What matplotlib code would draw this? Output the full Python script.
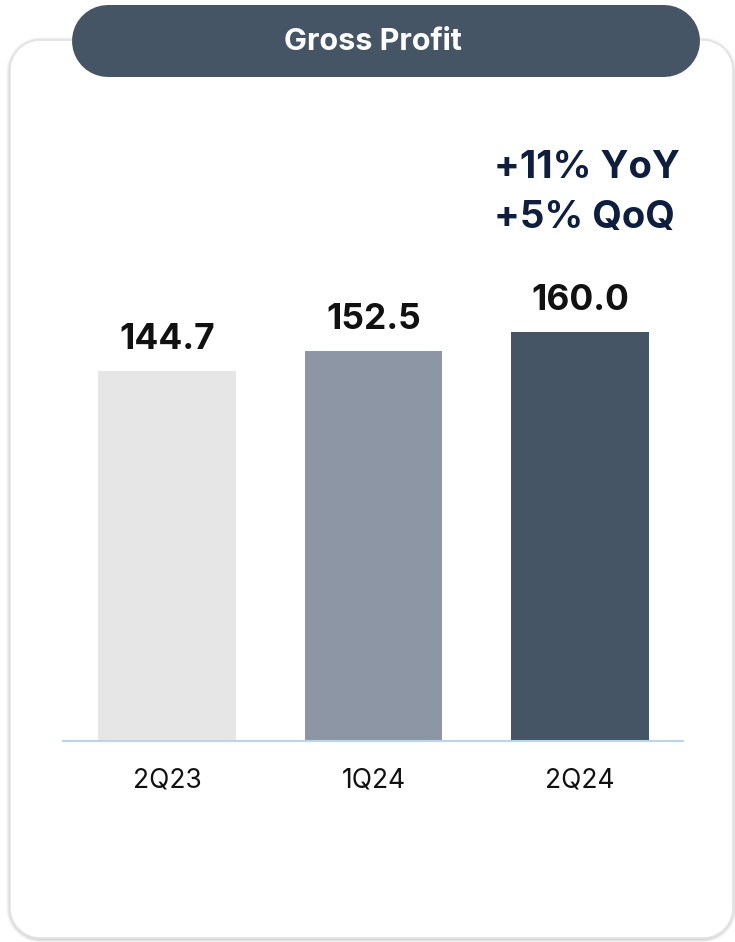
import numpy as np
import matplotlib
matplotlib.use("Agg")
import matplotlib.pyplot as plt
from matplotlib.patches import Polygon

plt.rcParams['font.family'] = ['Inter', 'DejaVu Sans']

categories = ["2Q23", "1Q24", "2Q24"]
values = [144.7, 152.5, 160.0]
value_labels = ["144.7", "152.5", "160.0"]
bar_colors = ["#e6e6e6", "#8c96a5", "#465566"]
title = "Gross Profit"
growth_lines = ["+11% YoY", "+5% QoQ"]

W, H = 735, 942
fig = plt.figure(figsize=(W / 100, H / 100), dpi=100)
fig.patch.set_facecolor("white")


def rounded_rect(x0, y0, x1, y1, r, n=24):
    """Outline of a rectangle with circular corners (y grows downwards)."""
    pts = []
    corners = [(x1 - r, y0 + r, -90, 0), (x1 - r, y1 - r, 0, 90),
               (x0 + r, y1 - r, 90, 180), (x0 + r, y0 + r, 180, 270)]
    for cx, cy, a0, a1 in corners:
        t = np.radians(np.linspace(a0, a1, n))
        pts.extend(zip(cx + r * np.cos(t), cy + r * np.sin(t)))
    return np.array(pts)


# Background layer in pixel coordinates for the card and the title pill
bg = fig.add_axes([0, 0, 1, 1], zorder=0)
bg.set_xlim(0, W)
bg.set_ylim(H, 0)
bg.axis("off")

card = (10, 40, 733, 938)
# soft shadow around the card
for grow, a in [(5, 0.025), (4, 0.035), (3, 0.045), (2, 0.06)]:
    bg.add_patch(Polygon(rounded_rect(card[0] - grow + 1, card[1] - grow + 2, card[2] + grow - 1,
                                      card[3] + grow, 30 + grow),
                         closed=True, fc=(0, 0, 0, a), ec="none"))
bg.add_patch(Polygon(rounded_rect(*card, 30), closed=True, fc="white", ec="#e4e4e4", lw=1.2))

# title pill drawn as a thick line with round caps
pill_h = 72
bg.plot([72 + pill_h / 2, 700 - pill_h / 2], [41, 41], color="#465566",
        lw=pill_h * 72 / 100, solid_capstyle="round")
bg.text(373, 42, title, ha="center", va="center", color="white",
        fontsize=22, fontweight="bold")

# Bar chart
ax = fig.add_axes([63 / W, (H - 741) / H, 620 / W, 641 / H], zorder=1)
ax.patch.set_alpha(0)
x = list(range(len(categories)))
ax.bar(x, values, width=0.668, color=bar_colors, zorder=2)
ax.set_xlim(-0.504, 2.499)
ax.set_ylim(0, 641 / (409 / 160))

for spine in ["top", "right", "left"]:
    ax.spines[spine].set_visible(False)
ax.spines["bottom"].set_color("#bcd3ee")
ax.spines["bottom"].set_linewidth(1.5)
ax.set_yticks([])
ax.set_xticks(x)
ax.set_xticklabels(categories, fontsize=19, color="#111111")
ax.tick_params(axis="x", length=0, pad=19)

for xi, v, lab in zip(x, values, value_labels):
    ax.annotate(lab, (xi, v), xytext=(0, 23), textcoords="offset points",
                ha="center", va="center", fontsize=25.5, fontweight="bold", color="#111111")

ax.annotate(growth_lines[0], (2, values[2]), xytext=(5, 118), textcoords="offset points",
            ha="center", va="center", fontsize=27.5, fontweight="bold", color="#0f1e3d")
ax.annotate(growth_lines[1], (2, values[2]), xytext=(3, 82), textcoords="offset points",
            ha="center", va="center", fontsize=27.5, fontweight="bold", color="#0f1e3d")

fig.savefig("out.png", dpi=100, facecolor="white")
